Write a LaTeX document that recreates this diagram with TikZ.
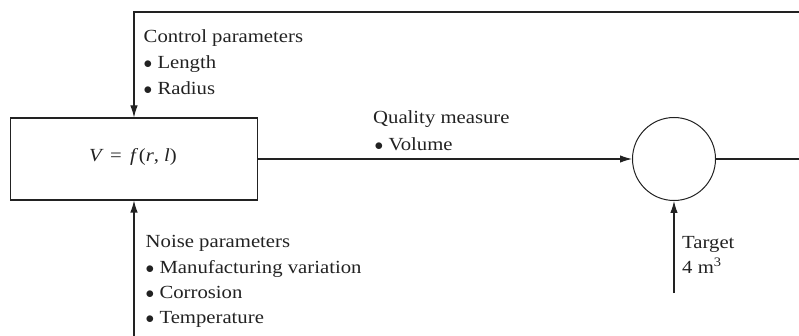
\documentclass[tikz,border=0pt]{standalone}
\usepackage{fontspec}
\setmainfont{Liberation Serif}[FakeStretch=1.12]
\usepackage{xcolor}
\usepackage{tikz}
\usetikzlibrary{arrows.meta}
\usetikzlibrary{positioning}
\definecolor{ink}{HTML}{222222}
\newcommand{\bul}{$\bullet$\ }

\begin{document}
\begin{tikzpicture}[
  x=1pt,y=-1pt,
  every node/.style={text=ink,font=\fontsize{18.5}{26}\selectfont},
  lbl/.style={anchor=base west,inner sep=0pt},
  modelbox/.style={draw=ink,line width=1.1pt,minimum width=247pt,minimum height=82pt,inner sep=0pt},
  comparator/.style={circle,draw=ink,line width=1pt,minimum size=83pt,inner sep=0pt},
  sig/.style={draw=ink,line width=1.1pt,-{Latex[length=12pt,width=7.5pt]}}]
\useasboundingbox (0,0) rectangle (799,336);
\node[modelbox] (model) at (134,159) {};
\node[anchor=base] (fn) at (133,162) {\itshape V\upshape\,\ =\ \,\itshape f\upshape\,(\itshape r\upshape, \itshape l\upshape)};
\node[comparator] (cmp) at (674,159) {};
\coordinate (loopTL) at (134,12);
\coordinate (loopTR) at (800,12);
\coordinate (loopR) at (800,159);
\coordinate (noiseIn) at (134,336);
\coordinate (targetIn) at (674,293);
% connectors
\draw[sig] (cmp.east) -- (loopR) -- (loopTR) -- (loopTL) -- (model.north);
\draw[sig] (model.east) -- (cmp.west);
\draw[sig] (noiseIn) -- (model.south);
\draw[sig] (targetIn) -- (cmp.south);
% labels
\foreach \txt [count=\i] in {Control parameters,\bul Length,\bul Radius}
  \node[lbl] (ctrl\i) at (143.5,{17+26*\i}) {\txt};
\foreach \txt [count=\i] in {Noise parameters,\bul Manufacturing variation,\bul Corrosion,\bul Temperature}
  \node[lbl] (noise\i) at (145.5,{222.5+25.3*\i}) {\txt};
\node[lbl] (qual1) at (373,124) {Quality measure};
\node[lbl] (qual2) at (374.5,150.5) {\bul Volume};
\node[lbl] (tgt1) at (682,249) {Target};
\node[lbl] (tgt2) at (682,273) {4 m\textsuperscript{3}};
\end{tikzpicture}
\end{document}
